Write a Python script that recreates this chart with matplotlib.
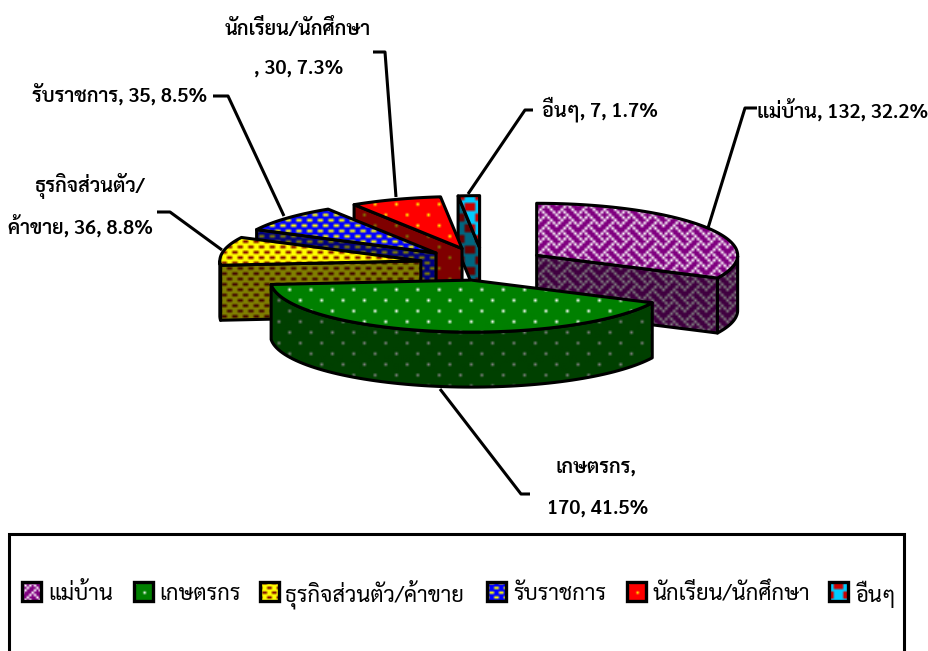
import numpy as np
import matplotlib
matplotlib.use("Agg")
import matplotlib.pyplot as plt
from matplotlib.patches import Polygon, Rectangle
from matplotlib.colors import to_rgb

plt.rcParams['font.family'] = ['Sarabun', 'Noto Sans Thai', 'DejaVu Sans']

categories = ["แม่บ้าน", "เกษตรกร", "ธุรกิจส่วนตัว/ค้าขาย", "รับราชการ", "นักเรียน/นักศึกษา", "อื่นๆ"]
values = [132, 170, 36, 35, 30, 7]
percents = ["32.2%", "41.5%", "8.8%", "8.5%", "7.3%", "1.7%"]
bg_colors = ["#800080", "#008000", "#FFFF00", "#0000FF", "#FF0000", "#00CCFF"]
fg_colors = ["#FFFFFF", "#FFFFFF", "#800000", "#FFFF00", "#FFFF00", "#CC0000"]

# 8x8 fill bitmaps, scaled up when drawn
patterns = [
    ["10001000", "01010100", "00100010", "01000101", "10001000", "00010100", "00100010", "01010001"],
    ["10000000", "00000000", "00000000", "00000000", "00001000", "00000000", "00000000", "00000000"],
    ["01100110", "00000000", "10011001", "00000000", "01100110", "00000000", "10011001", "00000000"],
    ["01100110", "00000000", "10011001", "00000000", "01100110", "00000000", "10011001", "00000000"],
    ["10000000", "00000000", "00000000", "00000000", "00001000", "00000000", "00000000", "00000000"],
    ["00111100", "00111100", "00111100", "00000000", "11000011", "11000011", "11000011", "00000000"],
]

cx, cy = 483, 264
rx, ry = 201, 52
depth = 55
explode = 0.315
cell = 2.67

fig = plt.figure(figsize=(9.29, 6.51), dpi=100)
ax = fig.add_axes([0, 0, 1, 1])
ax.set_xlim(0, 929)
ax.set_ylim(651, 0)
ax.axis("off")


def tile(idx, shade=1.0):
    bits = np.array([[int(c) for c in row] for row in patterns[idx]])
    bg = np.array(to_rgb(bg_colors[idx])) * shade
    fg = np.array(to_rgb(fg_colors[idx])) * shade
    return bg + bits[..., None] * (fg - bg)


def fill(poly, idx, shade, z):
    img = tile(idx, shade)
    n = int(950 / (8 * cell)) + 1
    big = np.tile(img, (n, n, 1))
    size = n * 8 * cell
    im = ax.imshow(big, extent=(0, size, size, 0), interpolation="bilinear", zorder=z, aspect="auto")
    patch = Polygon(poly, closed=True, fc="none", ec="black", lw=2.2, joinstyle="round", zorder=z + 0.1)
    ax.add_patch(patch)
    im.set_clip_path(patch)


def xy(a, x0, y0):
    return np.column_stack([x0 + rx * np.sin(a), y0 - ry * np.cos(a)])


fracs = np.array(values) / sum(values)
edges = np.concatenate([[0], np.cumsum(fracs)]) * 2 * np.pi

# back slices first, the big front slice last
order = [5, 4, 3, 2, 0, 1]
z = 2
for i in order:
    a0, a1 = edges[i], edges[i + 1]
    mid = (a0 + a1) / 2
    x0 = cx + explode * rx * np.sin(mid)
    y0 = cy - explode * ry * np.cos(mid)
    arc = xy(np.linspace(a0, a1, 80), x0, y0)
    apex = np.array([x0, y0])
    top = np.vstack([apex, arc])
    down = np.array([0, depth])
    # only the cut faces turned to the viewer
    for a, visible in ((a0, np.sin(a0) < -1e-6), (a1, np.sin(a1) > 1e-6)):
        if visible:
            edge = xy(np.array([a]), x0, y0)[0]
            fill(np.array([apex, edge, edge + down, apex + down]), i, 0.5, z)
            z += 1
    # rim
    fa = np.linspace(a0, a1, 80)
    vis = fa[np.cos(fa) <= 0]
    if len(vis) > 1:
        rim = xy(vis, x0, y0)
        fill(np.vstack([rim, rim[::-1] + down]), i, 0.5, z)
        z += 1
    fill(top, i, 1.0, z)
    z += 1

# leader lines
leaders = [
    ([708, 745, 757], [228, 108, 108]),
    ([440, 521, 530], [389, 494, 494]),
    ([222, 170, 157], [250, 212, 212]),
    ([284, 228, 213], [216, 96, 96]),
    ([396, 385, 373], [197, 52, 52]),
    ([468, 525, 533], [194, 110, 110]),
]
for lx, ly in leaders:
    ax.plot(lx, ly, color="black", lw=2.2, zorder=100, solid_capstyle="butt")

# data labels
label_kw = dict(fontsize=14.3, fontweight=600, ha="center", va="center", zorder=101)
ax.text(843, 110, f"{categories[0]}, {values[0]}, {percents[0]}", **label_kw)
ax.text(596, 468, f"{categories[1]},", **label_kw)
ax.text(598, 509, f"{values[1]}, {percents[1]}", **label_kw)
ax.text(90, 186, "ธุรกิจส่วนตัว/", **label_kw)
ax.text(81, 226, f"ค้าขาย, {values[2]}, {percents[2]}", **label_kw)
ax.text(120, 94, f"{categories[3]}, {values[3]}, {percents[3]}", **label_kw)
ax.text(298, 29, categories[4], **label_kw)
ax.text(299, 69, f", {values[4]}, {percents[4]}", **label_kw)
ax.text(600, 109, f"{categories[5]}, {values[5]}, {percents[5]}", **label_kw)

# legend box, runs off the bottom of the picture
ax.add_patch(Rectangle((9, 534), 895, 140, fc="white", ec="black", lw=2.2, zorder=1))
key_x = [22, 134, 260, 487, 627, 829]
text_x = [48, 159, 285, 513, 653, 855]
for i, name in enumerate(categories):
    ax.imshow(tile(i), extent=(key_x[i], key_x[i] + 19, 601, 582),
              interpolation="bilinear", zorder=5, aspect="auto")
    ax.add_patch(Rectangle((key_x[i], 582), 19, 19, fc="none", ec="black", lw=2.4, zorder=6))
    ax.text(text_x[i], 594, name, fontsize=15.8, ha="left", va="center", zorder=7)

ax.set_xlim(0, 929)
ax.set_ylim(651, 0)
fig.savefig("out.png", dpi=100)
